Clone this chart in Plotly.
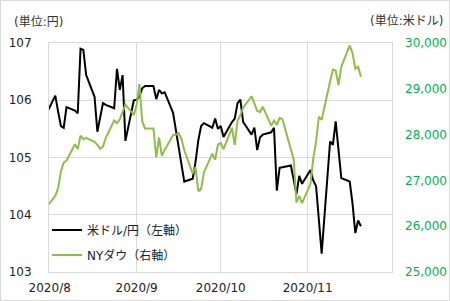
import plotly.graph_objects as go

dates = [
    "2020-07-31",
    "2020-08-03", "2020-08-04", "2020-08-05", "2020-08-06", "2020-08-07",
    "2020-08-10", "2020-08-11", "2020-08-12", "2020-08-13", "2020-08-14",
    "2020-08-17", "2020-08-18", "2020-08-19", "2020-08-20", "2020-08-21",
    "2020-08-24", "2020-08-25", "2020-08-26", "2020-08-27", "2020-08-28",
    "2020-08-31",
    "2020-09-01", "2020-09-02", "2020-09-03", "2020-09-04",
    "2020-09-07", "2020-09-08", "2020-09-09", "2020-09-10", "2020-09-11",
    "2020-09-14", "2020-09-15", "2020-09-16", "2020-09-17", "2020-09-18",
    "2020-09-21", "2020-09-22", "2020-09-23", "2020-09-24", "2020-09-25",
    "2020-09-28", "2020-09-29", "2020-09-30",
    "2020-10-01", "2020-10-02",
    "2020-10-05", "2020-10-06", "2020-10-07", "2020-10-08", "2020-10-09",
    "2020-10-12", "2020-10-13", "2020-10-14", "2020-10-15", "2020-10-16",
    "2020-10-19", "2020-10-20", "2020-10-21", "2020-10-22", "2020-10-23",
    "2020-10-26", "2020-10-27", "2020-10-28", "2020-10-29", "2020-10-30",
    "2020-11-02", "2020-11-03", "2020-11-04", "2020-11-05", "2020-11-06",
    "2020-11-09", "2020-11-10", "2020-11-11", "2020-11-12", "2020-11-13",
    "2020-11-16", "2020-11-17", "2020-11-18", "2020-11-19", "2020-11-20",
]

usdjpy = [
    105.78,
    106.08, 105.80, 105.55, 105.52, 105.88,
    105.82, 105.77, 106.90, 106.88, 106.44,
    106.06, 105.45, 105.72, 105.95, 105.92,
    105.86, 106.55, 106.18, 106.44, 105.29,
    106.00,
    106.01, 106.06, 106.21, 106.25,
    106.25, 106.02, 106.18, 106.12, 106.14,
    105.78, 105.48, 105.15, 104.80, 104.58,
    104.63, 104.92, 105.30, 105.55, 105.60,
    105.52, 105.68, 105.50,
    105.55, 105.36,
    105.62, 105.68, 105.95, 106.01, 105.62,
    105.40, 105.52, 105.13, 105.35, 105.40,
    105.44, 105.52, 104.42, 104.82, 104.83,
    104.86, 104.62, 104.36, 104.68, 104.54,
    104.78, 104.60, 104.50, 103.95, 103.32,
    105.28, 105.22, 105.63, 105.10, 104.64,
    104.58, 104.20, 103.68, 103.90, 103.80,
]

dow = [
    26428,
    26664, 26828, 27201, 27386, 27433,
    27791, 27687, 27977, 27897, 27931,
    27844, 27778, 27692, 27739, 27930,
    28308, 28249, 28332, 28492, 28654,
    28430,
    28646, 29100, 28292, 28133,
    28133, 27501, 27940, 27535, 27666,
    27993, 27995, 28032, 27902, 27657,
    27148, 27288, 26763, 26815, 27174,
    27584, 27452, 27782,
    27817, 27683,
    28149, 27773, 28303, 28426, 28587,
    28838, 28680, 28515, 28494, 28607,
    28196, 28309, 28211, 28364, 28336,
    27685, 27463, 26520, 26660, 26502,
    26925, 27481, 27848, 28390, 28323,
    29158, 29421, 29398, 29081, 29480,
    29950, 29784, 29438, 29483, 29263,
]

month_ticks = ["2020-08-01", "2020-09-01", "2020-10-01", "2020-11-01"]
month_labels = ["2020/8", "2020/9", "2020/10", "2020/11"]
left_ticks = [103, 104, 105, 106, 107]
right_ticks = [25000, 26000, 27000, 28000, 29000, 30000]

FONT = "DejaVu Sans, Noto Sans CJK JP, sans-serif"
GRID = "#d9d9d9"
GREEN_LINE = "#8DBE48"
GREEN_TEXT = "#00B050"
TEXT = "#333333"

L, R, T, B = 49, 58, 43, 29
W, H = 450, 301
PW, PH = W - L - R, H - T - B

fig = go.Figure()
fig.add_trace(go.Scatter(
    x=dates, y=usdjpy, name="米ドル/円（左軸）", mode="lines",
    line=dict(color="black", width=2), yaxis="y", legendgroup="a",
))
fig.add_trace(go.Scatter(
    x=dates, y=dow, name="NYダウ（右軸）", mode="lines",
    line=dict(color=GREEN_LINE, width=2), yaxis="y2", legendgroup="b",
))

fig.update_layout(
    width=W, height=H,
    margin=dict(l=L, r=R, t=T, b=B, autoexpand=False),
    paper_bgcolor="white", plot_bgcolor="white",
    font=dict(family=FONT, size=12, color=TEXT),
    showlegend=True,
    legend=dict(
        x=(47 - L) / PW, y=(272 - 242.5) / PH, xanchor="left", yanchor="middle",
        bgcolor="rgba(0,0,0,0)", font=dict(size=12, color="#222"),
        tracegroupgap=6, itemwidth=30,
    ),
    xaxis=dict(
        type="date", automargin=False,
        range=["2020-07-31 18:00", "2020-12-01 02:00"],
        tickvals=month_ticks, ticktext=month_labels,
        showgrid=True, gridcolor=GRID, gridwidth=1,
        showline=True, linecolor=GRID, mirror=True,
        ticks="", ticklabelstandoff=5, tickfont=dict(size=12, color="#222"),
        zeroline=False,
    ),
    yaxis=dict(
        range=[103, 107], tickvals=left_ticks, automargin=False,
        showgrid=True, gridcolor=GRID, gridwidth=1,
        showline=True, linecolor=GRID, mirror=True,
        ticks="", ticklabelstandoff=14,
        tickfont=dict(size=12, color="#222"), zeroline=False,
    ),
    yaxis2=dict(
        range=[25000, 30000], tickvals=right_ticks, tickformat=",d",
        overlaying="y", side="right", showgrid=False, automargin=False,
        ticks="", ticklabelstandoff=12,
        tickfont=dict(size=12, color=GREEN_TEXT), zeroline=False,
    ),
    annotations=[
        dict(text="(単位:円)", xref="paper", yref="paper",
             x=(12 - L) / PW, y=(272 - 22) / PH, xanchor="left", yanchor="middle",
             showarrow=False, font=dict(size=12, color=TEXT)),
        dict(text="(単位:米ドル)", xref="paper", yref="paper",
             x=(445 - L) / PW, y=(272 - 21) / PH, xanchor="right", yanchor="middle",
             showarrow=False, font=dict(size=12, color=TEXT)),
    ],
    shapes=[
        dict(type="rect", xref="paper", yref="paper",
             x0=(0.5 - L) / PW, x1=(W - 0.5 - L) / PW,
             y0=(272 - (H - 0.5)) / PH, y1=(272 - 0.5) / PH,
             line=dict(color=GRID, width=1), fillcolor="rgba(0,0,0,0)", layer="below"),
    ],
)

fig.write_html("out.html")
